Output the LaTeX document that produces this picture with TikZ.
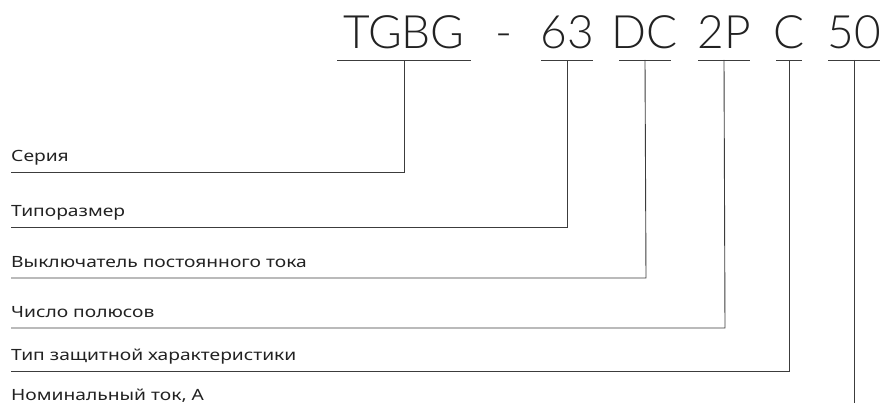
\documentclass[tikz,border=0pt]{standalone}
\usepackage{fontspec}
\setmainfont{Noto Sans}
\newfontfamily\labfont{Noto Sans}[FakeStretch=1.24]
\IfFontExistsTF{Lato Light}{\newfontfamily\topfont{Lato Light}}{%
 \IfFontExistsTF{Open Sans Light}{\newfontfamily\topfont{Open Sans Light}}{%
  \IfFontExistsTF{Fira Sans Light}{\newfontfamily\topfont{Fira Sans Light}}{\newfontfamily\topfont{Noto Sans}}}}
\definecolor{ink}{HTML}{222222}
\definecolor{linec}{HTML}{3C3C3C}
\tikzset{
  topt/.style={anchor=base, inner sep=0pt, text=ink, font=\topfont\fontsize{46}{50}\selectfont},
  lab/.style={anchor=base west, inner sep=0pt, text=ink, font=\labfont\fontsize{15.5}{18}\selectfont},
  uline/.style={draw=linec, line width=0.9pt},
  conn/.style={draw=linec, line width=0.9pt},
}
\begin{document}
\begin{tikzpicture}[x=1pt,y=-1pt]
\useasboundingbox (0,0) rectangle (884,403);
% top code parts
\node[topt] (t1) at (404,49) {TGBG};
\node[topt] (td) at (504,49) {-};
\node[topt] (t2) at (567,49) {63};
\node[topt] (t3) at (645,49) {DC};
\node[topt] (t4) at (724,49) {2P};
\node[topt] (t5) at (789,49) {C};
\node[topt] (t6) at (854,49) {50};
% underline anchors
\coordinate (u1) at (404,60);
\coordinate (u2) at (567,60);
\coordinate (u3) at (645,60);
\coordinate (u4) at (724,60);
\coordinate (u5) at (789,60);
\coordinate (u6) at (854,60);
\draw[uline] ([xshift=-67pt]u1) -- ([xshift=67pt]u1);
\draw[uline] ([xshift=-26pt]u2) -- ([xshift=26pt]u2);
\draw[uline] ([xshift=-26pt]u3) -- ([xshift=26pt]u3);
\draw[uline] ([xshift=-26pt]u4) -- ([xshift=26pt]u4);
\draw[uline] ([xshift=-13pt]u5) -- ([xshift=13pt]u5);
\draw[uline] ([xshift=-26pt]u6) -- ([xshift=26pt]u6);
% labels
\node[lab] (l1) at (11,162) {Серия};
\node[lab] (l2) at (11,217) {Типоразмер};
\node[lab] (l3) at (11,268) {Выключатель постоянного тока};
\node[lab] (l4) at (11,318) {Число полюсов};
\node[lab] (l5) at (11,361) {Тип защитной характеристики};
\node[lab] (l6) at (11,400) {Номинальный ток, А};
% corners
\coordinate (c1) at (404,172);
\coordinate (c2) at (567,227);
\coordinate (c3) at (646,278);
\coordinate (c4) at (725,328);
\coordinate (c5) at (789,371);
\coordinate (c6) at (854,403);
\draw[conn] (l1.base west |- c1) -- (c1) -- (u1);
\draw[conn] (l2.base west |- c2) -- (c2) -- (u2);
\draw[conn] (l3.base west |- c3) -- (c3) -- (u3);
\draw[conn] (l4.base west |- c4) -- (c4) -- (u4);
\draw[conn] (l5.base west |- c5) -- (c5) -- (u5);
\draw[conn] (u6) -- (c6);
\end{tikzpicture}
\end{document}
